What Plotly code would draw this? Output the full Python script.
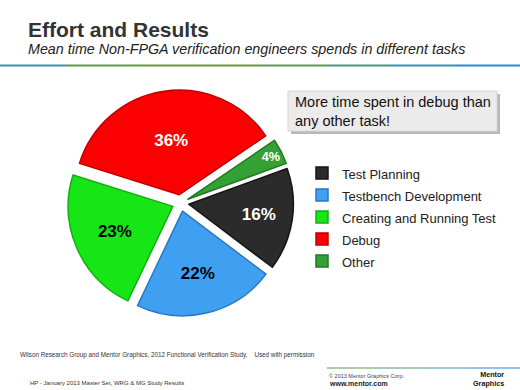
import plotly.graph_objects as go

# ---- data ----
categories = ["Test Planning", "Testbench Development", "Creating and Running Test", "Debug", "Other"]
values = [16, 22, 23, 36, 4]
slice_colors = ["#2b2b2b", "#3fa0f2", "#16e616", "#fb0000", "#35a035"]
edge_colors = ["#151515", "#2a78c0", "#10b010", "#c00000", "#237a23"]
text_colors = ["white", "black", "black", "white", "white"]

W, H = 520, 390
def px(x):
    return x / W
def py(y):
    return 1 - y / H

legend_labels = ['<span style="font-size:13px">%s</span>' % c for c in categories]

fig = go.Figure()
fig.add_trace(go.Pie(
    labels=legend_labels,
    values=values,
    sort=False,
    direction="clockwise",
    rotation=70,
    pull=[0.08] * len(values),
    marker=dict(colors=slice_colors, line=dict(color=edge_colors, width=1.5)),
    texttemplate="<b>%{value}%</b>",
    textposition="inside",
    insidetextorientation="horizontal",
    textfont=dict(family="Liberation Sans, Arial", size=17, color=text_colors),
    domain=dict(x=[px(67.5), px(293.5)], y=[py(316), py(90)]),
    hoverinfo="skip",
))

shapes = []
# header gradient line
grad = ["#3f8fb0", "#5f9a48", "#6a9a3c", "#6a9a3c", "#5a9a55", "#4a9580", "#3890b8", "#2a8cd4"]
n = len(grad)
for i, c in enumerate(grad):
    shapes.append(dict(type="line", xref="paper", yref="paper",
                       x0=i / n, x1=(i + 1) / n, y0=py(65.5), y1=py(65.5),
                       line=dict(color=c, width=2.2)))
# footer line
fgrad = ["#5a9a48", "#4c9670", "#3a90a8", "#2a8cd4"]
fx0, fx1 = 327, 520
for i, c in enumerate(fgrad):
    shapes.append(dict(type="line", xref="paper", yref="paper",
                       x0=px(fx0 + (fx1 - fx0) * i / len(fgrad)),
                       x1=px(fx0 + (fx1 - fx0) * (i + 1) / len(fgrad)),
                       y0=py(368), y1=py(368), line=dict(color=c, width=1)))
# callout box with shadow
shapes.append(dict(type="rect", xref="paper", yref="paper",
                   x0=px(291), x1=px(500), y0=py(134), y1=py(94),
                   fillcolor="#b8b8b8", line=dict(width=0), layer="below"))
shapes.append(dict(type="rect", xref="paper", yref="paper",
                   x0=px(288), x1=px(497), y0=py(131), y1=py(91),
                   fillcolor="#ebebeb", line=dict(color="#d6d6d6", width=1), layer="below"))

ann = []
ann.append(dict(text="<b>Effort and Results</b>", x=px(26), y=py(30), xanchor="left", yanchor="middle",
                font=dict(family="Liberation Sans, Arial", size=21, color="#333333")))
ann.append(dict(text="<i>Mean time Non-FPGA verification engineers spends in different tasks</i>",
                x=px(26), y=py(49), xanchor="left", yanchor="middle",
                font=dict(family="Liberation Sans, Arial", size=14.3, color="#222222")))
ann.append(dict(text="More time spent in debug than<br>any other task!", x=px(293), y=py(92),
                xanchor="left", yanchor="top", align="left",
                font=dict(family="Liberation Sans, Arial", size=14.5, color="#111111")))
ann.append(dict(text="Wilson Research Group and Mentor Graphics, 2012 Functional Verification Study,    Used with permission",
                x=px(18), y=py(355), xanchor="left", yanchor="middle",
                font=dict(family="Liberation Sans, Arial", size=6.3, color="#333333")))
ann.append(dict(text="HP - January 2013 Master Set, WRG &amp; MG Study Results",
                x=px(28), y=py(383), xanchor="left", yanchor="middle",
                font=dict(family="Liberation Sans, Arial", size=6, color="#333333")))
ann.append(dict(text="© 2013 Mentor Graphics Corp.",
                x=px(327), y=py(376), xanchor="left", yanchor="middle",
                font=dict(family="Liberation Sans, Arial", size=5.5, color="#444444")))
ann.append(dict(text="<b>www.mentor.com</b>",
                x=px(327), y=py(383.5), xanchor="left", yanchor="middle",
                font=dict(family="Liberation Sans, Arial", size=7, color="#222222")))
ann.append(dict(text="<b>Mentor<br>Graphics</b>", x=px(506), y=py(379), xanchor="right", yanchor="middle",
                align="right",
                font=dict(family="Liberation Sans, Arial", size=7.2, color="#111111")))
for a in ann:
    a.update(xref="paper", yref="paper", showarrow=False)

fig.update_layout(
    width=W, height=H, autosize=False,
    margin=dict(l=0, r=0, t=0, b=0),
    paper_bgcolor="white", plot_bgcolor="white",
    showlegend=True,
    legend=dict(x=px(302), y=py(157), xanchor="left", yanchor="top",
                font=dict(family="Liberation Sans, Arial", size=14.6, color="#222222"),
                bgcolor="rgba(0,0,0,0)", traceorder="normal"),
    shapes=shapes,
    annotations=ann,
)

fig.write_html("out.html", config={"displayModeBar": False},
               post_script="document.body.style.margin='0';document.body.style.overflow='hidden';")
